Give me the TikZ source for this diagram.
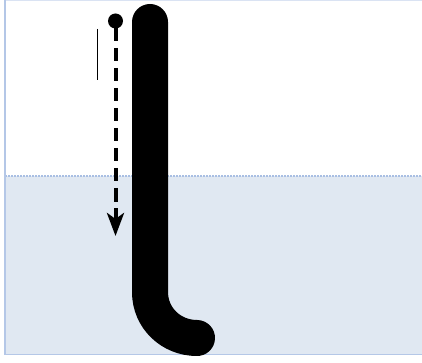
\documentclass[tikz,border=0pt]{standalone}
\usetikzlibrary{arrows.meta}
\definecolor{frameblue}{HTML}{B4C7E7}
\definecolor{framelight}{HTML}{DAE3F3}
\definecolor{waterfill}{HTML}{E0E8F2}
\definecolor{dotblue}{HTML}{A9BFE3}
\tikzset{
  rodline/.style={line width=36pt, line cap=round, black},
  droppath/.style={line width=4pt, dash pattern=on 13.5pt off 6.5pt, black,
    -{Stealth[length=23pt,width=17pt,inset=6pt]}},
  thinmark/.style={line width=1pt, black},
}
\begin{document}
\begin{tikzpicture}[x=1pt,y=-1pt]
\useasboundingbox (0,0) rectangle (422,363);
\clip (0,0) rectangle (422,363);
% upper white box
\fill[white] (5,0) rectangle (440,176);
\draw[framelight, line width=1.5pt] (5,0.75) -- (440,0.75);
% lower blue box
\fill[waterfill] (5,176) rectangle (440,354.5);
\draw[frameblue, line width=1.5pt] (5,354.5) -- (440,354.5);
\draw[dotblue, line width=1.5pt, dash pattern=on 1.5pt off 1.5pt] (5,176) -- (440,176);
\draw[frameblue, line width=2pt] (5,0) -- (5,355);
% rod
\coordinate (rodtop) at (150,22);
\coordinate (rodbend) at (150,292);
\coordinate (rodend) at (197,338);
\draw[rodline] (rodtop) -- (rodbend) .. controls (150,318) and (171,338) .. (rodend);
% drop with path
\coordinate (dropc) at (115.5,21);
\coordinate (dropstart) at (115.5,28);
\coordinate (dropend) at (115.5,236);
\fill[black] (dropc) circle[radius=7.5];
\draw[droppath] (dropstart) -- (dropend);
% thin marker
\coordinate (marka) at (97,29);
\coordinate (markb) at (97,80);
\draw[thinmark] (marka) -- (markb);
\end{tikzpicture}
\end{document}
